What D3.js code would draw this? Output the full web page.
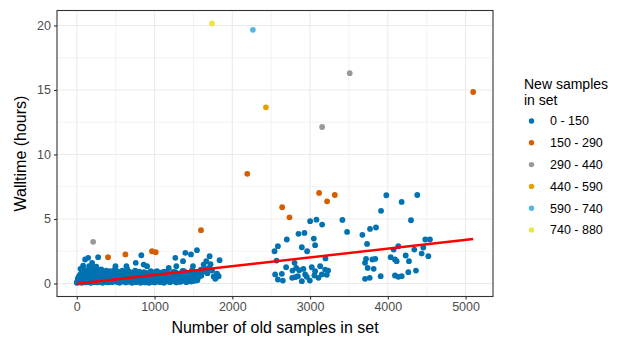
<!DOCTYPE html>
<html>
<head>
<meta charset="utf-8">
<script src="https://cdn.jsdelivr.net/npm/d3@7"></script>
<style>
  body { margin: 0; background: #fff; }
  svg text { font-family: "Liberation Sans", Arial, Helvetica, sans-serif; }
</style>
</head>
<body>
<svg id="chart" width="620" height="339"></svg>
<script>
// legend bins for number of new samples in a set
const categories = ['0 - 150', '150 - 290', '290 - 440', '440 - 590', '590 - 740', '740 - 880'];
const binColors = ['#0072B2', '#D55E00', '#999999', '#E69F00', '#56B4E9', '#F0E442'];

const xTicks = [0, 1000, 2000, 3000, 4000, 5000];
const yTicks = [0, 5, 10, 15, 20];

// outliers and the sparse points (old samples, walltime hours, bin index)
const oldSamples = [
  1738, 2265, 3510, 5098, 2432, 3155, 2192, 3116, 3219, 3318, 2641, 2735, 1597, 210, 402, 625, 967, 1015,
  3416, 3476, 3673, 3733, 3771, 3848, 3913, 3981, 4178, 4379, 4298, 4482, 4542, 4456, 4341, 4435, 4521,
  4135, 4075, 4037, 4092, 4114, 4230, 4272, 4362, 4264, 4178, 4092, 4135, 3908, 3767, 3707, 3707, 3741,
  3818, 3801, 3839, 3720,
  2543, 2586, 2569, 2701, 2692, 2551, 2586, 2650, 2637, 2774, 2800, 2851, 2928, 2894, 2962, 3001, 3082,
  3048, 3065, 3155, 3198, 2822, 2843, 2894, 2808, 2860, 2937, 2958, 3022, 3065, 3108, 3151, 3130, 3194,
  3215, 3232, 2997, 3056, 2915, 2770,
  107, 146, 274, 81, 47, 197, 158, 497, 638, 758, 830, 860, 903, 1032, 1267, 1366, 1396, 1468, 1545, 1494,
  1280, 1182, 1631, 1708, 1665, 1836, 1802, 1824, 1781, 1695, 1597,
  1600, 1620, 1650, 1680, 1700, 1720, 1740, 1760, 1790, 1810
];
const wallHours = [
  20.15, 19.66, 16.3, 14.84, 13.65, 12.13, 8.5, 7.02, 6.37, 6.86, 5.91, 5.13, 4.13, 3.23, 2.04, 2.25, 2.5, 2.43,
  4.93, 4.0, 3.77, 3.07, 4.23, 4.34, 5.63, 6.84, 6.32, 6.86, 4.9, 3.41, 3.41, 2.79, 2.63, 2.32, 2.12,
  2.89, 2.63, 2.04, 1.86, 1.73, 2.17, 1.73, 1.0, 0.88, 0.57, 0.62, 0.52, 0.57, 0.44, 0.36, 1.6, 1.21,
  1.14, 1.86, 1.91, 1.91,
  2.5, 2.89, 1.78, 3.41, 1.26, 0.7, 0.31, 0.23, 0.75, 1.0, 1.6, 3.85, 3.92, 2.81, 2.5, 4.83, 4.95,
  3.48, 2.97, 4.57, 1.94, 1.21, 0.57, 0.18, 0.49, 1.03, 0.7, 0.52, 1.26, 0.95, 0.44, 0.7, 1.34, 1.08,
  0.67, 1.0, 0.23, 0.62, 1.13, 0.44,
  1.86, 1.99, 2.04, 1.39, 1.14, 1.6, 1.34, 1.34, 1.34, 1.6, 2.19, 1.47, 1.34, 0.95, 1.99, 1.73, 2.37, 2.25, 2.58, 1.34,
  1.34, 1.21, 1.47, 2.12, 1.73, 1.81, 0.77, 0.57, 0.36, 1.03, 1.08,
  0.6, 0.9, 1.1, 0.8, 1.2, 1.5, 1.0, 0.55, 0.45, 0.65
];
const newBin = [
  5, 4, 2, 1, 3, 2, 1, 1, 1, 1, 1, 1, 1, 2, 1, 1, 1, 1
];

// the dense band of small sets (all in the first bin)
const denseOld = [
  0, 5, 10, 12, 18, 22, 25, 30, 35, 40, 45, 50, 55, 60, 65, 70, 75, 80, 85, 90, 95, 100, 105, 110, 115, 120,
  125, 130, 135, 140, 145, 150, 155, 160, 165, 170, 175, 180, 185, 190, 195, 200, 205, 210, 215, 220, 225,
  230, 235, 240, 245, 250, 255, 260, 265, 270, 275, 280, 285, 290, 295, 300, 305, 310, 315, 320, 325, 330,
  335, 340, 345, 350, 360, 365, 370, 375, 380, 385, 390, 400, 405, 410, 420, 425, 430, 440, 445, 450, 460,
  465, 470, 480, 485, 490, 500, 505, 510, 520, 525, 530, 540, 545, 550, 560, 565, 570, 580, 585, 590, 600,
  605, 610, 620, 625, 630, 640, 645, 650, 660, 665, 670, 680, 685, 690, 700, 705, 710, 720, 725, 730, 740,
  745, 750, 760, 765, 770, 780, 785, 790, 800, 805, 810, 820, 825, 830, 840, 845, 850, 860, 865, 870, 880,
  885, 890, 900, 905, 910, 920, 925, 930, 940, 945, 950, 960, 965, 970, 980, 985, 990, 1000, 1005, 1010,
  1020, 1030, 1040, 1050, 1060, 1070, 1080, 1090, 1100, 1110, 1120, 1130, 1140, 1150, 1160, 1170, 1180,
  1190, 1200, 1210, 1220, 1230, 1240, 1250, 1260, 1270, 1280, 1290, 1300, 1310, 1320, 1330, 1340, 1350,
  1360, 1370, 1380, 1390, 1400, 1410, 1420, 1430, 1440, 1450, 1460, 1470, 1480, 1490, 1500, 1510, 1520,
  1530, 1540, 1550, 1555, 1560, 1570,
  60, 140, 230, 320, 410, 520, 640, 760, 880, 1000, 1120, 1240, 1360, 1480
];
const denseHours = [
  0.05, 0.12, 0.2, 0.35, 0.08, 0.5, 0.15, 0.28, 0.62, 0.1, 0.4, 0.75, 0.22, 0.05, 0.9, 0.33, 0.55, 0.12, 0.7, 0.25, 0.45, 1.05, 0.08, 0.6, 0.3, 0.85,
  0.15, 0.5, 0.95, 0.2, 0.65, 0.1, 0.38, 0.8, 0.25, 1.1, 0.48, 0.05, 0.7, 0.3, 0.9, 0.15, 0.55, 1.2, 0.35, 0.75, 0.1,
  0.45, 0.95, 0.2, 0.6, 1.3, 0.3, 0.8, 0.08, 0.5, 1.0, 0.25, 0.65, 0.12, 0.4, 0.85, 0.18, 0.55, 1.1, 0.3, 0.7, 0.05,
  0.45, 0.9, 0.2, 0.6, 0.35, 0.8, 0.12, 0.5, 1.0, 0.25, 0.65, 0.08, 0.4, 0.75, 0.2, 0.55, 0.95, 0.3, 0.7, 0.1, 0.45,
  0.85, 0.22, 0.6, 1.05, 0.15, 0.38, 0.78, 0.28, 0.5, 0.9, 0.1, 0.65, 0.3, 0.05, 0.8, 0.42, 0.2, 0.7, 1.0, 0.35, 0.15,
  0.55, 0.85, 0.25, 0.48, 0.08, 0.75, 0.38, 1.1, 0.2, 0.6, 0.3, 0.9, 0.12, 0.5, 0.7, 0.25, 0.05, 0.45, 0.85, 0.18, 0.62,
  0.35, 1.0, 0.1, 0.55, 0.28, 0.78, 0.4, 0.15, 0.65, 0.92, 0.3, 0.05, 0.5, 0.2, 0.72, 0.38, 0.1, 0.58, 0.88, 0.25, 0.45,
  0.08, 0.68, 0.32, 0.15, 0.8, 0.5, 0.22, 0.05, 0.6, 0.35, 0.95, 0.12, 0.48, 0.28, 0.7, 0.18, 0.4, 0.08, 0.55, 0.3,
  0.78, 0.15, 0.45, 0.25, 0.62, 0.1, 0.85, 0.35, 0.2, 0.5, 0.05, 0.7, 0.3, 0.15, 0.9, 0.42, 0.22,
  0.6, 0.1, 0.75, 0.35, 0.5, 0.18, 0.65, 0.28, 0.88, 0.08, 0.45, 0.7, 0.25, 0.55, 0.12, 0.8, 0.38,
  0.2, 0.62, 0.95, 0.3, 0.5, 0.1, 0.72, 0.4, 0.22, 0.85, 0.55, 0.15, 0.65, 0.3, 0.48, 0.2, 0.78,
  0.35, 0.58, 0.25, 0.9, 0.45, 0.7,
  1.15, 0.98, 1.05, 0.92, 0.88, 0.95, 0.9, 0.85, 0.82, 0.88, 0.92, 0.9, 0.98, 1.0
];

// linear fit
const fitX = [0, 5098];
const fitY = [-0.02, 3.45];

const points = [];
denseOld.forEach((x, i) => points.push({ x: x, y: denseHours[i], bin: 0 }));
oldSamples.forEach((x, i) => points.push({ x: x, y: wallHours[i], bin: i < newBin.length ? newBin[i] : 0 }));
// draw the higher bins last so they sit on top
points.sort((a, b) => a.bin - b.bin);

const svg = d3.select('#chart');
const panel = { left: 57, right: 493, top: 10.5, bottom: 296.5 };

function expand(ext) {
  let pad = (ext[1] - ext[0]) * 0.05;
  return [ext[0] - pad, ext[1] + pad];
}
let xExt = d3.extent(points, d => d.x),
    yExt = d3.extent(points, d => d.y);

let x = d3.scaleLinear().domain(expand([Math.min(0, xExt[0]), xExt[1]])).range([panel.left, panel.right]);
let y = d3.scaleLinear().domain(expand([Math.min(0, yExt[0]), yExt[1]])).range([panel.bottom, panel.top]);

// minor grid
let xMinor = xTicks.map(t => t + 500).filter(t => x(t) < panel.right);
let yMinor = yTicks.map(t => t + 2.5).filter(t => y(t) > panel.top);

const grid = svg.append('g');
grid.selectAll('.xminor').data(xMinor).enter().append('line')
  .attr('x1', d => x(d)).attr('x2', d => x(d))
  .attr('y1', panel.top).attr('y2', panel.bottom)
  .attr('stroke', '#EBEBEB').attr('stroke-width', 0.6);
grid.selectAll('.yminor').data(yMinor).enter().append('line')
  .attr('y1', d => y(d)).attr('y2', d => y(d))
  .attr('x1', panel.left).attr('x2', panel.right)
  .attr('stroke', '#EBEBEB').attr('stroke-width', 0.6);
grid.selectAll('.xmajor').data(xTicks).enter().append('line')
  .attr('x1', d => x(d)).attr('x2', d => x(d))
  .attr('y1', panel.top).attr('y2', panel.bottom)
  .attr('stroke', '#EBEBEB').attr('stroke-width', 1.1);
grid.selectAll('.ymajor').data(yTicks).enter().append('line')
  .attr('y1', d => y(d)).attr('y2', d => y(d))
  .attr('x1', panel.left).attr('x2', panel.right)
  .attr('stroke', '#EBEBEB').attr('stroke-width', 1.1);

// points
svg.append('g').selectAll('circle')
  .data(points)
  .enter()
  .append('circle')
  .attr('cx', d => x(d.x))
  .attr('cy', d => y(d.y))
  .attr('r', 2.9)
  .attr('fill', d => binColors[d.bin]);

// fit line
svg.append('line')
  .attr('x1', x(fitX[0])).attr('y1', y(fitY[0]))
  .attr('x2', x(fitX[1])).attr('y2', y(fitY[1]))
  .attr('stroke', '#FF0000')
  .attr('stroke-width', 2.4);

// panel border
svg.append('rect')
  .attr('x', panel.left).attr('y', panel.top)
  .attr('width', panel.right - panel.left).attr('height', panel.bottom - panel.top)
  .attr('fill', 'none').attr('stroke', '#333333').attr('stroke-width', 1.1);

// axes
let xAxis = svg.append('g')
  .attr('transform', 'translate(0,' + panel.bottom + ')')
  .call(d3.axisBottom(x).tickValues(xTicks).tickSize(3).tickPadding(3).tickFormat(d3.format('d')));
let yAxis = svg.append('g')
  .attr('transform', 'translate(' + panel.left + ',0)')
  .call(d3.axisLeft(y).tickValues(yTicks).tickSize(3).tickPadding(3));

[xAxis, yAxis].forEach(a => {
  a.select('.domain').remove();
  a.selectAll('.tick line').attr('stroke', '#333333').attr('stroke-width', 1.1);
  a.selectAll('.tick text').attr('fill', '#4D4D4D').style('font-size', '12.5px')
    .style('font-family', '"Liberation Sans", Arial, sans-serif');
});

// axis titles
svg.append('text')
  .attr('x', (panel.left + panel.right) / 2).attr('y', 333)
  .attr('text-anchor', 'middle')
  .style('font-size', '16px')
  .text('Number of old samples in set');
svg.append('text')
  .attr('transform', 'translate(26,' + ((panel.top + panel.bottom) / 2) + ') rotate(-90)')
  .attr('text-anchor', 'middle')
  .style('font-size', '16px')
  .text('Walltime (hours)');

// legend
const legend = svg.append('g').attr('transform', 'translate(524,0)');
legend.append('text').attr('x', 0).attr('y', 89).style('font-size', '14px').text('New samples');
legend.append('text').attr('x', 0).attr('y', 105).style('font-size', '14px').text('in set');

let item = legend.selectAll('.item')
  .data(categories)
  .enter()
  .append('g')
  .attr('transform', (d, i) => 'translate(0,' + (121 + i * 21.8) + ')');
item.append('circle')
  .attr('cx', 7.5).attr('cy', 0).attr('r', 2.7)
  .attr('fill', (d, i) => binColors[i]);
item.append('text')
  .attr('x', 26).attr('y', 0).attr('dy', '0.35em')
  .style('font-size', '12.5px')
  .text(d => d);
</script>
</body>
</html>
